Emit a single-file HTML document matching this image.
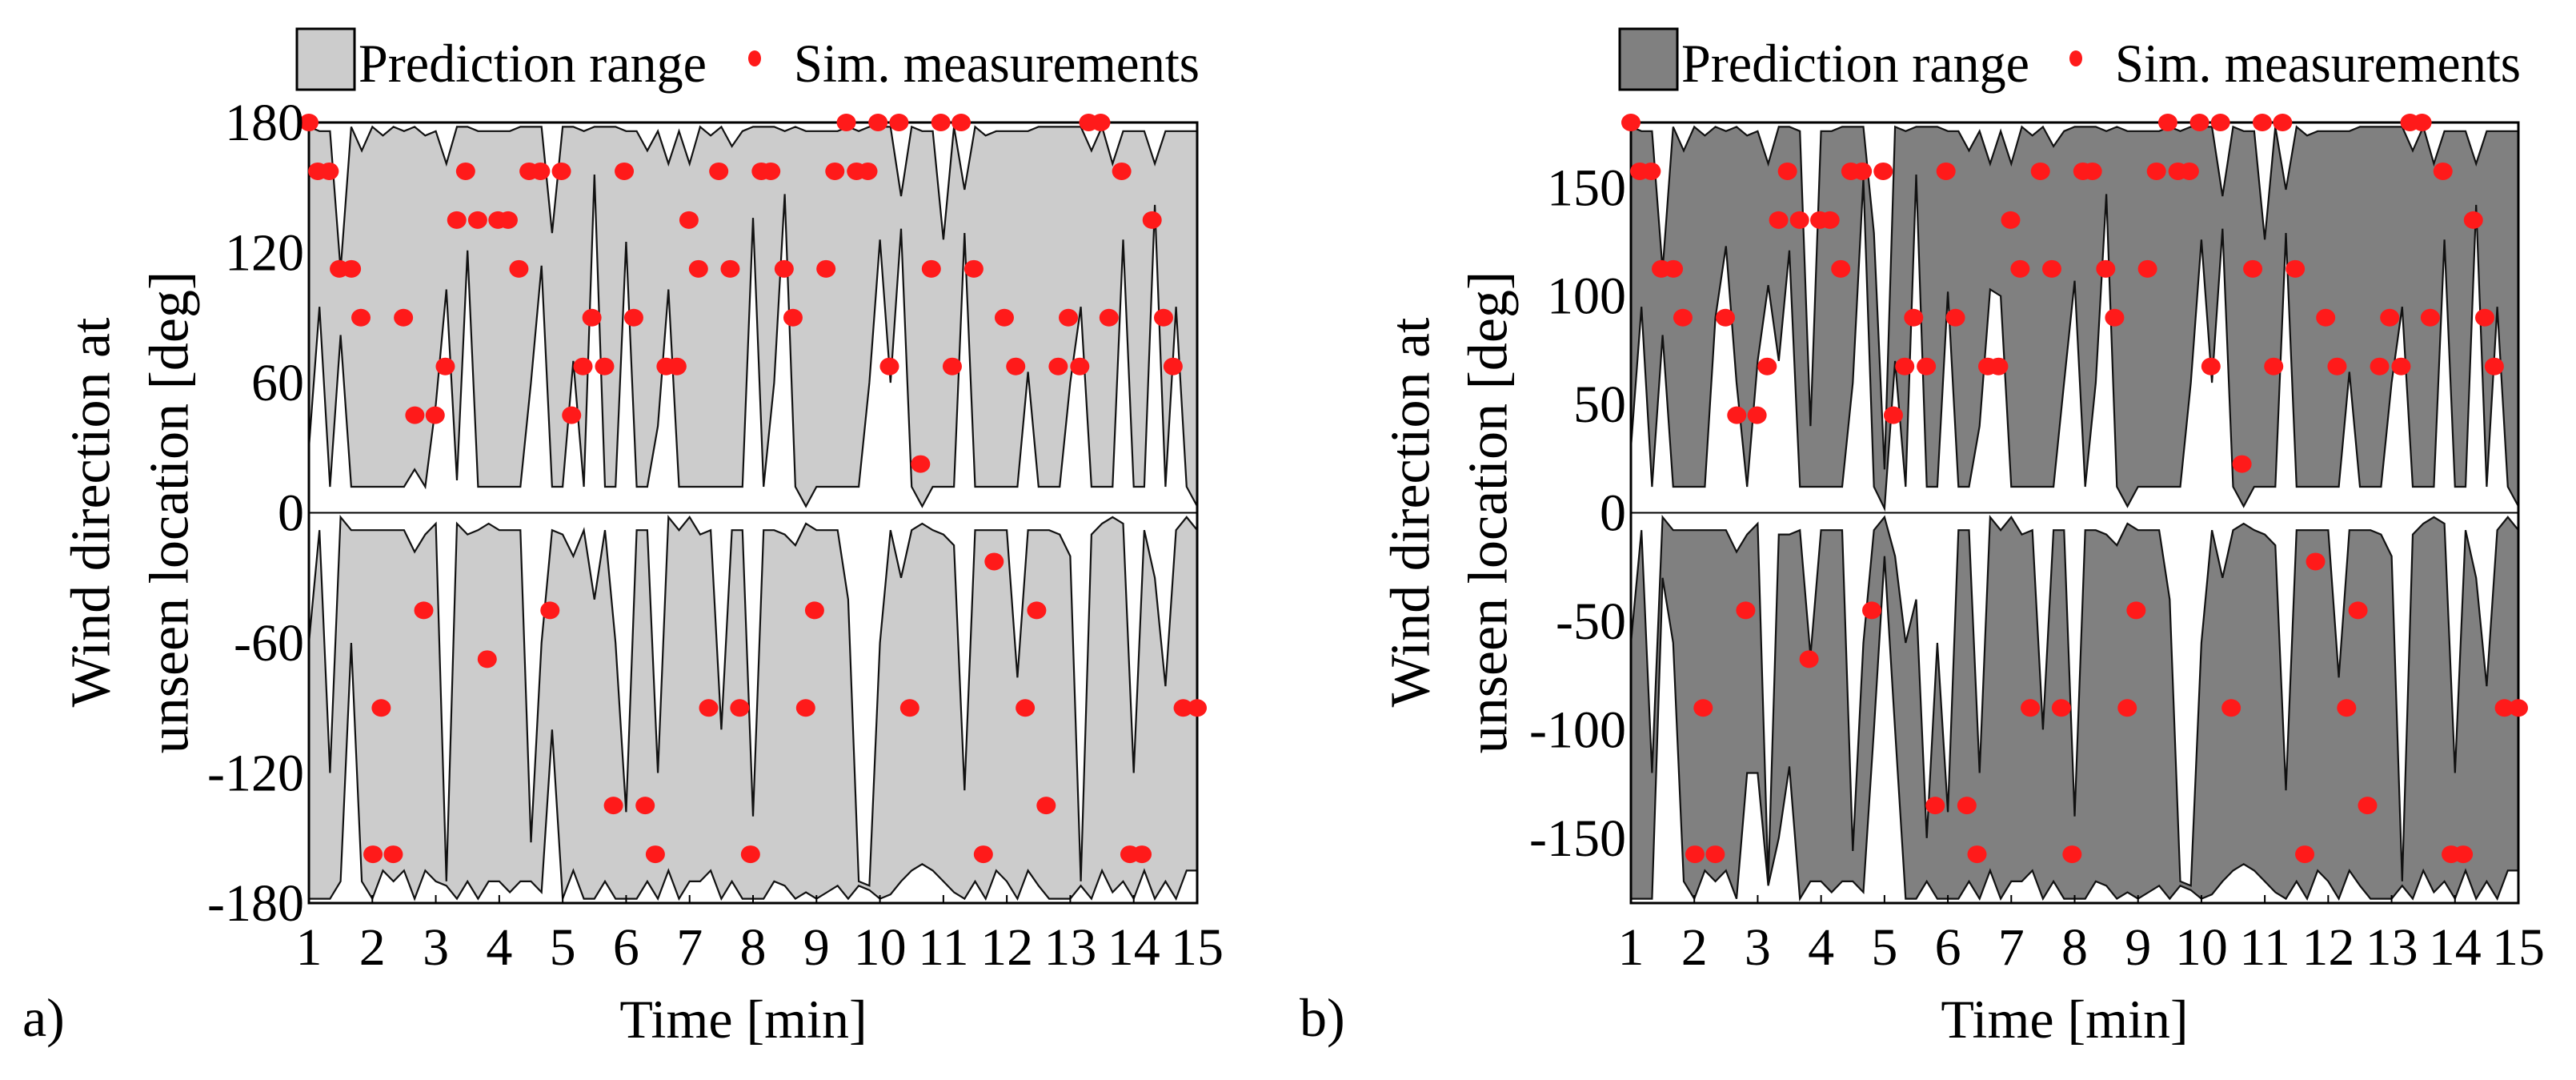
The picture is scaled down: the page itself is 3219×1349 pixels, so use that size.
<!DOCTYPE html>
<html><head><meta charset="utf-8"><style>
html,body{margin:0;padding:0;background:#fff;}
svg{display:block;}
svg text{font-family:"Liberation Serif","DejaVu Serif",serif !important;fill:#000;}
</style></head><body>
<svg id="chart" xmlns="http://www.w3.org/2000/svg" width="3219" height="1349" viewBox="0 0 3219 1349" font-family="'Liberation Serif', 'DejaVu Serif', serif">
<rect x="0" y="0" width="3219" height="1349" fill="#fff"/>
</svg>
<script>
// ---- data ----
const tStart = 1, tStep = 1/6; // grid of band samples (10 s steps)
const xTicks = [1,2,3,4,5,6,7,8,9,10,11,12,13,14,15];
const yTicksA = [180,120,60,0,-60,-120,-180];
const yTicksB = [150,100,50,0,-50,-100,-150];
const ptTimes = [1.0,1.14,1.32,1.48,1.67,1.82,2.49,2.67,2.99,3.15,3.33,3.47,3.66,3.98,4.14,4.31,4.47,4.65,4.98,5.14,5.32,5.46,5.66,5.97,6.12,6.63,6.80,6.99,7.14,7.46,7.64,8.13,8.28,8.49,8.63,9.15,9.29,9.47,9.63,9.81,9.97,10.15,10.30,10.64,10.81,10.96,11.14,11.28,11.48,11.96,12.14,12.81,12.97,13.15,13.29,13.48,13.61,13.81,14.29,14.47,14.62,
 2.01,2.14,2.33,2.81,3.81,4.80,5.80,6.30,6.46,7.30,7.79,7.96,8.83,8.97,10.47,11.63,11.80,12.29,12.47,12.62,13.94,14.13,14.78,15.0];
const ptVals = [180,157.5,157.5,112.5,112.5,90,90,45,45,67.5,135,157.5,135,135,135,112.5,157.5,157.5,157.5,45,67.5,90,67.5,157.5,90,67.5,67.5,135,112.5,157.5,112.5,157.5,157.5,112.5,90,112.5,157.5,180,157.5,157.5,180,67.5,180,22.5,112.5,180,67.5,180,112.5,90,67.5,67.5,90,67.5,180,180,90,157.5,135,90,67.5,
 -157.5,-90,-157.5,-45,-67.5,-45,-135,-135,-157.5,-90,-90,-157.5,-90,-45,-90,-157.5,-22.5,-90,-45,-135,-157.5,-157.5,-90,-90];

const aTopLo = [30,95,12,82,12,12,12,12,12,12, 20,12,50,103,15,121,12,12,12,12, 12,60,114,12,12,70,12,156,12,12, 125,12,12,40,103,12,12,12,12,12, 12,12,136,12,60,147,12,3,12,12, 12,12,12,60,126,60,131,12,3,12, 12,12,129,12,12,12,12,12,65,12, 12,12,60,95,12,12,12,126,12,12, 142,12,95,12,3];
const aTopHi = [178,176,176,112,178,167,178,174,178,176, 178,174,176,161,178,178,176,176,176,176, 178,178,178,129,178,178,176,178,178,178, 176,176,167,176,161,176,161,178,174,178, 169,176,178,178,178,176,178,176,176,176, 176,178,176,178,178,178,146,178,176,176, 126,178,149,178,174,176,176,176,176,178, 178,178,178,178,167,178,161,176,176,176, 161,176,176,176,176];
const aBotHi = [-60,-8,-120,-2,-8,-8,-8,-8,-8,-8, -18,-10,-5,-170,-5,-10,-8,-5,-8,-8, -8,-152,-60,-8,-10,-20,-8,-40,-8,-60, -138,-8,-8,-120,-2,-8,-2,-10,-8,-100, -8,-8,-140,-8,-8,-10,-15,-5,-8,-8, -8,-40,-170,-172,-60,-8,-30,-8,-5,-8, -10,-15,-128,-8,-8,-8,-8,-76,-8,-8, -8,-10,-20,-170,-10,-5,-2,-5,-120,-8, -30,-80,-8,-2,-8];
const aBotLo = [-178,-178,-178,-170,-60,-170,-178,-165,-170,-165, -178,-165,-170,-172,-178,-170,-178,-170,-170,-175, -170,-170,-175,-100,-178,-165,-178,-178,-170,-178, -178,-178,-170,-178,-165,-178,-170,-170,-165,-178, -170,-178,-178,-178,-170,-172,-178,-175,-178,-175, -172,-178,-172,-174,-178,-176,-170,-165,-162,-165, -170,-175,-178,-170,-178,-165,-170,-178,-165,-172, -178,-178,-178,-172,-178,-165,-175,-170,-178,-165, -178,-170,-178,-165,-165];

const bTopLo = [30,95,12,82,12,12,12,12,90,123, 60,12,70,105,70,121,12,12,12,12, 12,60,154,12,2,70,12,156,12,12, 102,12,12,40,103,100,12,12,12,12, 12,60,107,12,60,147,12,3,12,12, 12,12,12,60,126,60,131,12,3,12, 12,12,129,12,12,12,12,12,65,12, 12,12,60,95,12,12,12,126,12,12, 142,12,95,12,3];
const bTopHi = [178,176,176,112,178,167,178,174,178,176, 178,174,176,161,178,178,176,40,176,176, 178,178,178,129,20,178,176,178,178,178, 176,176,167,176,161,176,161,178,174,178, 169,176,178,178,178,176,178,176,176,176, 176,178,176,178,178,178,146,178,176,176, 126,178,149,178,174,176,176,176,176,178, 178,178,178,178,167,178,161,176,176,176, 161,176,176,176,176];
const bBotHi = [-60,-8,-120,-2,-8,-8,-8,-8,-8,-8, -18,-10,-5,-170,-10,-10,-8,-66,-8,-8, -8,-156,-60,-8,-2,-20,-60,-40,-150,-60, -138,-8,-8,-120,-2,-8,-2,-10,-8,-100, -8,-8,-140,-8,-8,-10,-15,-5,-8,-8, -8,-40,-170,-172,-60,-8,-30,-8,-5,-8, -10,-15,-128,-8,-8,-8,-8,-76,-8,-8, -8,-10,-20,-170,-10,-5,-2,-5,-120,-8, -30,-80,-8,-2,-8];
const bBotLo = [-178,-178,-178,-30,-60,-170,-178,-165,-170,-165, -178,-120,-120,-172,-150,-117,-178,-170,-170,-175, -170,-170,-175,-100,-20,-100,-178,-178,-170,-178, -178,-178,-170,-178,-165,-178,-170,-170,-165,-178, -170,-178,-178,-178,-170,-172,-178,-175,-178,-175, -172,-178,-172,-174,-178,-176,-170,-165,-162,-165, -170,-175,-178,-170,-178,-165,-170,-178,-165,-172, -178,-178,-178,-172,-178,-165,-175,-170,-178,-165, -178,-170,-178,-165,-165];

// ---- drawing ----
const NS = "http://www.w3.org/2000/svg";
const FONT = "'Liberation Serif', 'DejaVu Serif', serif";
const svg = document.getElementById('chart');
function mk(tag, attrs, parent){
  const e = document.createElementNS(NS, tag);
  for (const k in attrs) e.setAttribute(k, attrs[k]);
  if (tag === 'text') e.setAttribute('font-family', FONT);
  (parent||svg).appendChild(e);
  return e;
}
const Y0 = 153, Y1 = 1128;
function yScale(v){ return Y0 + (180 - v) / 360 * (Y1 - Y0); }

function panel(id, x0, x1, fill, topLo, topHi, botLo, botHi, yTicks, legX, dotX, simX, titleX1, titleX2, xTitleX, letter, letterX){
  const xs = t => x0 + (t - 1) / 14 * (x1 - x0);
  const g = mk('g', {});
  
  
  function band(lo, hi, name){
    const n = Math.min(lo.length, hi.length);
    let pts = [];
    for (let i = 0; i < n; i++){ const t = tStart + i*tStep; pts.push(xs(t).toFixed(1)+','+yScale(hi[i]).toFixed(1)); }
    for (let i = n-1; i >= 0; i--){ const t = tStart + i*tStep; pts.push(xs(t).toFixed(1)+','+yScale(Math.min(lo[i],hi[i])).toFixed(1)); }
    const p = mk('polygon', {points: pts.join(' '), fill: fill, stroke: '#111', 'stroke-width': 2.2, 'stroke-linejoin':'miter'}, g);
    
    
  }
  band(topLo, topHi, 'prediction-range-upper-band');
  band(botLo, botHi, 'prediction-range-lower-band');
  const zl = mk('line', {x1: x0, x2: x1, y1: yScale(0), y2: yScale(0), stroke: '#000', 'stroke-width': 2}, g);
  
  
  const fr = mk('rect', {x: x0, y: Y0, width: x1 - x0, height: Y1 - Y0, fill: 'none', stroke: '#000', 'stroke-width': 3}, g);
  
  
  for (let i = 0; i < Math.min(ptTimes.length, ptVals.length); i++){
    const c = mk('ellipse', {cx: xs(ptTimes[i]), cy: yScale(ptVals[i]), rx: 12, ry: 11, fill: '#ff1a1a'}, g);
    
    
  }
  xTicks.forEach(t => {
    const tk = mk('line', {x1: xs(t), x2: xs(t), y1: Y1, y2: Y1 - 10, stroke: '#000', 'stroke-width': 2}, g);
    
    
    const lb = mk('text', {x: xs(t), y: 1205, 'font-size': 66, 'text-anchor': 'middle'}, g);
    lb.textContent = String(t);
    
    
  });
  yTicks.forEach(v => {
    const lb = mk('text', {x: x0 - 6, y: yScale(v) + 22, 'font-size': 66, 'text-anchor': 'end'}, g);
    lb.textContent = String(v);
    
    
  });
  const cy = 640;
  const t1 = mk('text', {x: titleX1, y: cy, 'font-size': 70, 'text-anchor': 'middle', 'dominant-baseline': 'central', transform: 'rotate(-90 '+titleX1+' '+cy+')'}, g);
  t1.textContent = 'Wind direction at';
  
  
  const t2 = mk('text', {x: titleX2, y: cy, 'font-size': 70, 'text-anchor': 'middle', 'dominant-baseline': 'central', transform: 'rotate(-90 '+titleX2+' '+cy+')'}, g);
  t2.textContent = 'unseen location [deg]';
  
  
  const xt = mk('text', {x: xTitleX, y: 1296, 'font-size': 68, 'text-anchor': 'middle'}, g);
  xt.textContent = 'Time [min]';
  
  
  const lt = mk('text', {x: letterX, y: 1294, 'font-size': 68}, g);
  lt.textContent = letter;
  
  
  const lg = mk('g', {}, g);
  
  
  const sw = mk('rect', {x: legX, y: 36, width: 72, height: 76, fill: fill, stroke: '#000', 'stroke-width': 3}, lg);
  
  
  const l1 = mk('text', {x: legX + 77, y: 102, 'font-size': 68, textLength: 435, lengthAdjust: 'spacingAndGlyphs'}, lg);
  l1.textContent = 'Prediction range';
  
  
  const d = mk('ellipse', {cx: dotX, cy: 73, rx: 8, ry: 10, fill: '#ff1a1a'}, lg);
  
  
  const l2 = mk('text', {x: simX, y: 102, 'font-size': 68, textLength: 507, lengthAdjust: 'spacingAndGlyphs'}, lg);
  l2.textContent = 'Sim. measurements';
  
  
}

panel('a', 386, 1496, '#cccccc', aTopLo, aTopHi, aBotLo, aBotHi, yTicksA, 371, 943, 992, 114, 212, 929, 'a)', 28);
panel('b', 2038, 3147, '#808080', bTopLo, bTopHi, bBotLo, bBotHi, yTicksB, 2024, 2594, 2643, 1763, 1860, 2580, 'b)', 1624);
</script>
</body></html>
